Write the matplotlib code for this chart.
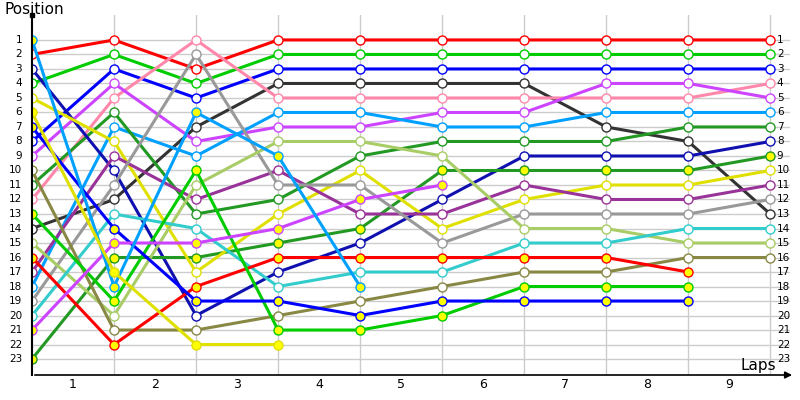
import matplotlib.pyplot as plt
import numpy as np

plt.rcParams['font.family'] = 'DejaVu Sans'

laps = list(range(10))
lap_labels = ["1", "2", "3", "4", "5", "6", "7", "8", "9"]
positions = list(range(1, 24))

# position of each driver at laps 0..9 (None = retired)
red = [2, 1, 3, 1, 1, 1, 1, 1, 1, 1]
green = [4, 2, 4, 2, 2, 2, 2, 2, 2, 2]
blue = [8, 3, 5, 3, 3, 3, 3, 3, 3, 3]
black = [14, 12, 7, 4, 4, 4, 4, 7, 8, 13]
pink = [12, 5, 1, 5, 5, 5, 5, 5, 5, 4]
magenta = [9, 4, 8, 7, 7, 6, 6, 4, 4, 5]
lightblue = [18, 7, 9, 6, 6, 7, 7, 6, 6, 6]
darkgreen = [11, 6, 13, 12, 9, 8, 8, 8, 7, 7]
navy = [3, 10, 20, 17, 15, 12, 9, 9, 9, 8]
darkgreen_y = [23, 16, 16, 15, 14, 10, 10, 10, 10, 9]
yellow = [5, 8, 17, 13, 10, 14, 12, 11, 11, 10]
purple = [17, 9, 12, 10, 13, 13, 11, 12, 12, 11]
grey = [19, 11, 2, 11, 11, 15, 13, 13, 13, 12]
lightgreen = [15, 20, 11, 8, 8, 9, 14, 14, 15, 15]
cyan = [20, 13, 14, 18, 17, 17, 15, 15, 14, 14]
olive = [10, 21, 21, 20, 19, 18, 17, 17, 16, 16]
red_y = [16, 22, 18, 16, 16, 16, 16, 16, 17]
green_y = [13, 19, 10, 21, 21, 20, 18, 18, 18]
blue_y = [7, 14, 19, 19, 20, 19, 19, 19, 19]
magenta_y = [21, 15, 15, 14, 12, 11]
lightblue_y = [1, 18, 6, 9, 18]
yellow_y = [6, 17, 22, 22]

drivers = [
    (red, "#ff0000", "white"), (green, "#00cc00", "white"), (blue, "#0000ff", "white"),
    (black, "#333333", "white"), (pink, "#ff88aa", "white"), (magenta, "#cc44ff", "white"),
    (lightblue, "#00a0ff", "white"), (darkgreen, "#229922", "white"), (navy, "#1010b0", "white"),
    (darkgreen_y, "#229922", "#ffff00"), (yellow, "#e0e000", "white"), (purple, "#993399", "white"),
    (grey, "#999999", "white"), (lightgreen, "#a8cc66", "white"), (cyan, "#33cccc", "white"),
    (olive, "#888844", "white"), (red_y, "#ff0000", "#ffff00"), (green_y, "#00cc00", "#ffff00"),
    (blue_y, "#0000ff", "#ffff00"), (magenta_y, "#cc44ff", "#ffff00"),
    (lightblue_y, "#00a0ff", "#ffff00"), (yellow_y, "#e0e000", "#ffff00"),
]

fig = plt.figure(figsize=(8, 4), dpi=100)
ax = fig.add_axes([0.04, 0.0625, 0.9475, 0.9])
ax.set_xlim(0, 9.24)
ax.set_ylim(24.1, -0.72)

for p in positions:
    ax.plot([0, 9.24], [p, p], color="#cccccc", lw=1, zorder=0)
for x in laps[1:]:
    ax.plot([x, x], [24.1, -0.72], color="#cccccc", lw=1, zorder=0)

for vals, col, fill in drivers:
    ax.plot(laps[:len(vals)], vals, color=col, lw=2.2, marker="o", ms=6.5,
            mfc=fill, mec=col, mew=1, zorder=2)

for p in positions:
    ax.text(-0.12, p, str(p), ha="right", va="center", fontsize=7.5)
    ax.text(9.08, p, str(p), ha="left", va="center", fontsize=7.5)
for i, lab in enumerate(lap_labels):
    ax.text(i + 0.5, 24.75, lab, ha="center", va="center", fontsize=9, clip_on=False)

for s in ax.spines.values():
    s.set_visible(False)
ax.set_xticks([])
ax.set_yticks([])
ax.annotate("", xy=(9.3, 24.1), xytext=(0, 24.1), annotation_clip=False,
            arrowprops=dict(arrowstyle="-|>", color="black", lw=1.2))
ax.plot([0, 0], [24.1, -0.72], color="black", lw=1.5, clip_on=False)
ax.plot([0], [-0.72], "ks", ms=2.5, clip_on=False)
fig.text(0.005, 0.995, "Position", ha="left", va="top", fontsize=11)
ax.text(9.07, 23.45, "Laps", ha="right", va="center", fontsize=11)

fig.savefig("out.png", dpi=100)
